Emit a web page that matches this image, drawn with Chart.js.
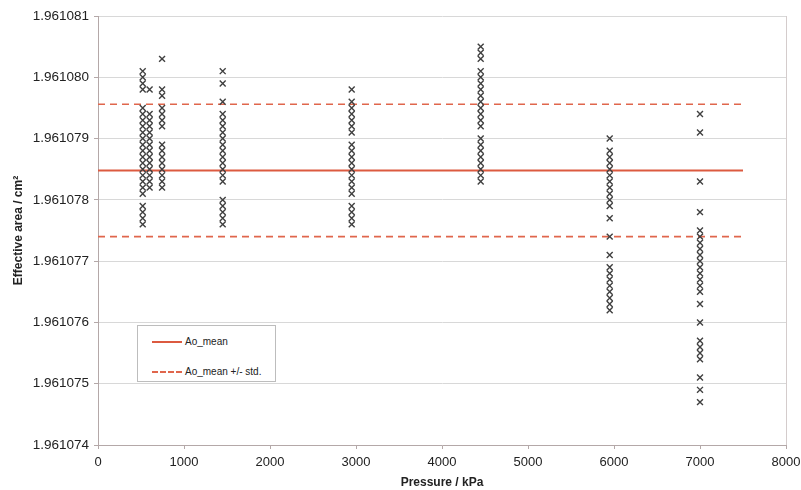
<!DOCTYPE html>
<html>
<head>
<meta charset="utf-8">
<script src="https://cdn.jsdelivr.net/npm/chart.js@4/dist/chart.umd.min.js"></script>
<style>
  body { margin: 0; background: #fff; }
  #wrap { position: relative; width: 801px; height: 490px; }
  #legend {
    position: absolute; left: 137px; top: 325px; width: 137px; height: 55px;
    border: 1px solid #bdbdbd; background: #fff;
    font: 10px Arial, "Liberation Sans", sans-serif; color: #222;
  }
  #legend .item { position: absolute; left: 14px; height: 12px; line-height: 12px; }
  #legend .sample { display: inline-block; width: 30px; vertical-align: middle; margin-right: 3px; }
</style>
</head>
<body>
<div id="wrap">
  <canvas id="chart" width="801" height="490"></canvas>
  <div id="legend"></div>
</div>
<script>
// pressure columns (kPa) and effective area readings (cm²)
const pressures = [520, 600, 745, 1450, 2950, 4450, 5950, 7000];

const area520 = [1.9610801, 1.9610800, 1.9610799, 1.9610798, 1.9610795, 1.9610794, 1.9610793, 1.9610792,
  1.9610791, 1.9610790, 1.9610789, 1.9610788, 1.9610787, 1.9610786, 1.9610785, 1.9610784, 1.9610783,
  1.9610782, 1.9610781, 1.9610779, 1.9610778, 1.9610777, 1.9610776];
const area600 = [1.9610798, 1.9610794, 1.9610793, 1.9610792, 1.9610791, 1.9610790, 1.9610789, 1.9610788,
  1.9610787, 1.9610786, 1.9610785, 1.9610784, 1.9610783, 1.9610782];
const area745 = [1.9610803, 1.9610798, 1.9610797, 1.9610795, 1.9610794, 1.9610793, 1.9610792, 1.9610789,
  1.9610788, 1.9610787, 1.9610786, 1.9610785, 1.9610784, 1.9610783, 1.9610782];
const area1450 = [1.9610801, 1.9610799, 1.9610796, 1.9610794, 1.9610793, 1.9610792, 1.9610791, 1.9610790,
  1.9610789, 1.9610788, 1.9610787, 1.9610786, 1.9610785, 1.9610784, 1.9610783, 1.9610780, 1.9610779,
  1.9610778, 1.9610777, 1.9610776];
const area2950 = [1.9610798, 1.9610796, 1.9610795, 1.9610794, 1.9610793, 1.9610792, 1.9610791, 1.9610789,
  1.9610788, 1.9610787, 1.9610786, 1.9610785, 1.9610784, 1.9610783, 1.9610782, 1.9610781, 1.9610779,
  1.9610778, 1.9610777, 1.9610776];
const area4450 = [1.9610805, 1.9610804, 1.9610803, 1.9610801, 1.9610800, 1.9610799, 1.9610798, 1.9610797,
  1.9610796, 1.9610795, 1.9610794, 1.9610793, 1.9610792, 1.9610790, 1.9610789, 1.9610788, 1.9610787,
  1.9610786, 1.9610785, 1.9610784, 1.9610783];
const area5950 = [1.9610790, 1.9610788, 1.9610787, 1.9610786, 1.9610785, 1.9610784, 1.9610783, 1.9610782,
  1.9610781, 1.9610780, 1.9610779, 1.9610777, 1.9610774, 1.9610771, 1.9610769, 1.9610768, 1.9610767,
  1.9610766, 1.9610765, 1.9610764, 1.9610763, 1.9610762];
const area7000 = [1.9610794, 1.9610791, 1.9610783, 1.9610778, 1.9610775, 1.9610774, 1.9610773, 1.9610772,
  1.9610771, 1.9610770, 1.9610769, 1.9610768, 1.9610767, 1.9610766, 1.9610765, 1.9610763, 1.9610760,
  1.9610757, 1.9610756, 1.9610755, 1.9610754, 1.9610751, 1.9610749, 1.9610747];

const areaColumns = [area520, area600, area745, area1450, area2950, area4450, area5950, area7000];

// mean and standard deviation lines
const aoMean = 1.96107848;
const aoStd = 0.00000108;
const lineRange = [0, 7500];

const yTicks = [1.961074, 1.961075, 1.961076, 1.961077, 1.961078, 1.961079, 1.961080, 1.961081];
const xTicks = [0, 1000, 2000, 3000, 4000, 5000, 6000, 7000, 8000];

const points = [];
areaColumns.forEach((col, i) => col.forEach(v => points.push({ x: pressures[i], y: v })));

const FONT = 'Arial, "Liberation Sans", sans-serif';
const meanColor = '#dc5a40';
const stdColor = '#e0664c';

const chart = new Chart(document.getElementById('chart'), {
  type: 'scatter',
  data: {
    datasets: [
      {
        label: 'Ao',
        data: points,
        pointStyle: 'crossRot',
        pointRadius: 4.2,
        borderColor: '#404040',
        borderWidth: 1.4,
        order: 0
      },
      {
        type: 'line',
        label: 'Ao_mean',
        data: lineRange.map(x => ({ x, y: aoMean })),
        borderColor: meanColor,
        borderWidth: 2,
        pointRadius: 0,
        order: 1
      },
      {
        type: 'line',
        label: 'Ao_mean +/- std.',
        data: lineRange.map(x => ({ x, y: aoMean + aoStd })),
        borderColor: stdColor,
        borderWidth: 1.6,
        borderDash: [7, 5],
        pointRadius: 0,
        order: 1
      },
      {
        type: 'line',
        label: 'Ao_mean - std.',
        data: lineRange.map(x => ({ x, y: aoMean - aoStd })),
        borderColor: stdColor,
        borderWidth: 1.6,
        borderDash: [7, 5],
        pointRadius: 0,
        order: 1
      }
    ]
  },
  options: {
    responsive: false,
    animation: false,
    layout: { padding: { top: 16, right: 15, left: 0, bottom: 0 } },
    plugins: { legend: { display: false }, tooltip: { enabled: false } },
    scales: {
      x: {
        type: 'linear',
        min: 0, max: 8000,
        afterBuildTicks: axis => { axis.ticks = xTicks.map(v => ({ value: v })); },
        afterFit: axis => { axis.height = 45; axis.paddingLeft = 0; axis.paddingRight = 0; },
        border: { color: '#b4a8a8', width: 1 },
        grid: {
          color: c => (c.tick && c.tick.value === 8000 ? '#d4cccc' : 'rgba(0,0,0,0)'),
          tickColor: '#b4a8a8',
          tickLength: 4
        },
        ticks: {
          color: '#222', font: { family: FONT, size: 13 }, padding: 6, maxRotation: 0,
          callback: v => String(v)
        },
        title: {
          display: true, text: 'Pressure / kPa', color: '#222',
          font: { family: FONT, size: 12, weight: 'bold' }, padding: { top: 0, bottom: 0 }
        }
      },
      y: {
        type: 'linear',
        min: 1.961074, max: 1.961081,
        afterBuildTicks: axis => { axis.ticks = yTicks.map(v => ({ value: v })); },
        afterFit: axis => { axis.width = 98; axis.paddingTop = 0; axis.paddingBottom = 0; },
        border: { color: '#b4a8a8', width: 1 },
        grid: { color: '#d8d8d8', tickColor: '#b4a8a8', tickLength: 4 },
        ticks: {
          color: '#222', font: { family: FONT, size: 13.5 }, padding: 5,
          callback: v => v.toFixed(6)
        },
        title: {
          display: true, text: 'Effective area / cm²', color: '#222',
          font: { family: FONT, size: 12, weight: 'bold' }, padding: { top: 11, bottom: 0 }
        }
      }
    }
  }
});

// legend box drawn inside the plot, from the line datasets
const legendEl = document.getElementById('legend');
chart.data.datasets.slice(1, 3).forEach((ds, i) => {
  const item = document.createElement('div');
  item.className = 'item';
  item.style.top = (10 + i * 30) + 'px';
  const sample = document.createElement('span');
  sample.className = 'sample';
  sample.style.borderTop = ds.borderDash ? '2px dashed ' + ds.borderColor : '2px solid ' + ds.borderColor;
  item.appendChild(sample);
  item.appendChild(document.createTextNode(ds.label));
  legendEl.appendChild(item);
});
</script>
</body>
</html>
